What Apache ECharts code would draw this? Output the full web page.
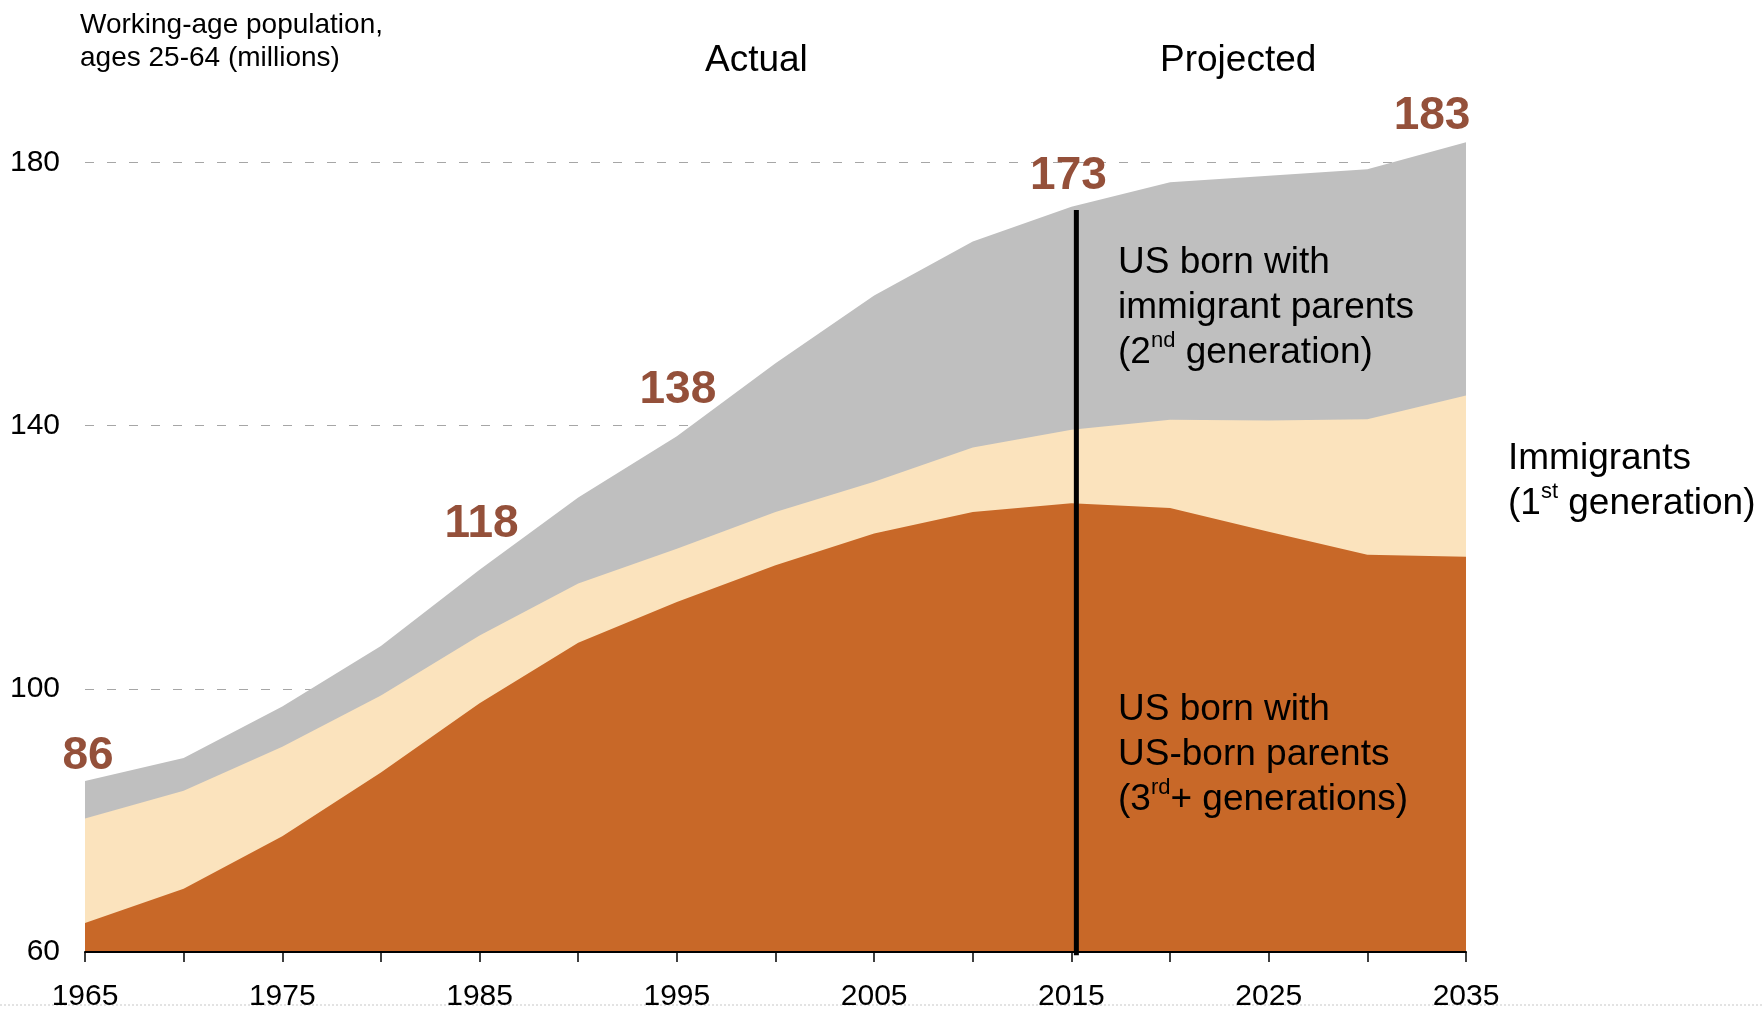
<!DOCTYPE html>
<html>
<head>
<meta charset="utf-8">
<script src="https://cdn.jsdelivr.net/npm/echarts@6/dist/echarts.min.js"></script>
<style>
html,body{margin:0;padding:0;background:#fff;}
#c{width:1763px;height:1012px;}
</style>
</head>
<body>
<div id="c"></div>
<script>
// ---- data ----
const years = [1965,1970,1975,1980,1985,1990,1995,2000,2005,2010,2015,2020,2025,2030,2035];
const thirdPlusGen = [64.4,69.6,77.6,87.3,97.8,107.0,113.2,118.8,123.6,126.9,128.2,127.5,123.9,120.4,120.1];
const firstGen     = [15.9,14.9,13.6,11.7,10.3,9.0,8.1,8.1,7.9,9.8,11.2,13.4,16.9,20.6,24.5];
const secondGen    = [5.7,5.0,6.1,7.5,10.0,13.1,17.1,22.6,28.3,31.3,33.9,36.1,37.2,38.0,38.5];
const xTickLabels = [1965,1975,1985,1995,2005,2015,2025,2035];
const yTickLabels = [60,100,140,180];
const labeledYears = [1965,1985,1995,2015,2035];
const dividerYear = 2015.25;
const dividerTop = 172.8;

// ---- build (cumulative layers, drawn back to front) ----
const layer1 = years.map((y,i)=>thirdPlusGen[i]);
const layer2 = years.map((y,i)=>thirdPlusGen[i]+firstGen[i]);
const totals = years.map((y,i)=>thirdPlusGen[i]+firstGen[i]+secondGen[i]);
const pair = arr => years.map((y,i)=>[y, arr[i]]);
const labelOffsets = {1965:[3,-25],1985:[2,-45],1995:[1,-46],2015:[-3,-30],2035:[-34,-26]};

const FONT = 'Liberation Sans, Arial, sans-serif';
const areaSeries = (name, arr, color, z) => ({
  name, type:'line', data: pair(arr),
  symbol:'none', showSymbol:false, smooth:false,
  lineStyle:{width:0, opacity:0},
  areaStyle:{color:color, opacity:1, origin:'start'},
  z:z, silent:true
});

const sTop = areaSeries('US born with immigrant parents (2nd generation)', totals, '#BFBFBF', 2);
const sMid = areaSeries('Immigrants (1st generation)', layer2, '#FBE3BD', 3);
const sBot = areaSeries('US born with US-born parents (3rd+ generations)', layer1, '#C86828', 4);

const divider = {
  type:'line', name:'divider', silent:true, z:6,
  symbol:'none', showSymbol:false,
  lineStyle:{color:'#000', width:5},
  data:[[dividerYear, 59.5],[dividerYear, dividerTop]],
  clip:false
};

const totalLabels = {
  type:'scatter', name:'Total', silent:true, z:8,
  symbol:'circle', symbolSize:1,
  itemStyle:{color:'rgba(0,0,0,0)'},
  data: labeledYears.map(y=>{
    const i = years.indexOf(y);
    return {
      value:[y, totals[i]],
      label:{show:true, position:'inside', offset:labelOffsets[y], opacity:1,
        formatter: String(Math.round(totals[i])),
        fontSize:46, fontWeight:'bold', color:'#94503A', fontFamily:FONT}
    };
  })
};

const txt = (t, left, top, fs, lh, extra) => Object.assign({
  type:'text', left, top, z:100,
  style:Object.assign({text:t, fill:'#000', fontSize:fs, fontFamily:FONT, lineHeight:lh}, extra||{})
});
const supRich = {sup:{fontSize:22, fontFamily:FONT, verticalAlign:'top', lineHeight:34, fill:'#000'}};

const option = {
  animation:false,
  backgroundColor:'#fff',
  grid:{left:85, right:297, top:31, bottom:58, containLabel:false},
  xAxis:{
    type:'value', min:1965, max:2035, interval:5, z:10,
    axisLine:{show:true, lineStyle:{color:'#000', width:2}},
    axisTick:{show:true, length:10, lineStyle:{color:'#000', width:1.5}},
    splitLine:{show:false},
    axisLabel:{
      margin:30, fontSize:30, color:'#000', fontFamily:FONT,
      formatter: v => xTickLabels.includes(v) ? String(v) : ''
    }
  },
  yAxis:{
    type:'value', min:60, max:200, interval:20,
    axisLine:{show:false}, axisTick:{show:false},
    splitLine:{show:true, lineStyle:{color:['#A6A6A6','rgba(0,0,0,0)'], width:1.2, type:[9,13]}},
    axisLabel:{
      margin:25, fontSize:30, color:'#000', fontFamily:FONT,
      formatter: v => yTickLabels.includes(v) ? String(v) : ''
    }
  },
  series:[sTop, sMid, sBot, divider, totalLabels],
  graphic:[
    {type:'line', z:0, shape:{x1:0, y1:1005, x2:1763, y2:1005}, style:{stroke:'#C8C8C8', lineWidth:1, lineDash:[2,2]}},
    txt('Working-age population,\nages 25-64 (millions)', 80, 9, 28, 33),
    txt('Actual', 705, 38, 37, 45),
    txt('Projected', 1160, 38, 37, 45),
    txt('US born with\nimmigrant parents\n(2{sup|nd} generation)', 1118, 240, 37, 45, {rich:supRich}),
    txt('US born with\nUS-born parents\n(3{sup|rd}+ generations)', 1118, 687, 37, 45, {rich:supRich}),
    txt('Immigrants\n(1{sup|st} generation)', 1508, 436, 37, 45, {rich:supRich})
  ]
};

const chart = echarts.init(document.getElementById('c'), null, {renderer:'canvas'});
chart.setOption(option);
</script>
</body>
</html>
